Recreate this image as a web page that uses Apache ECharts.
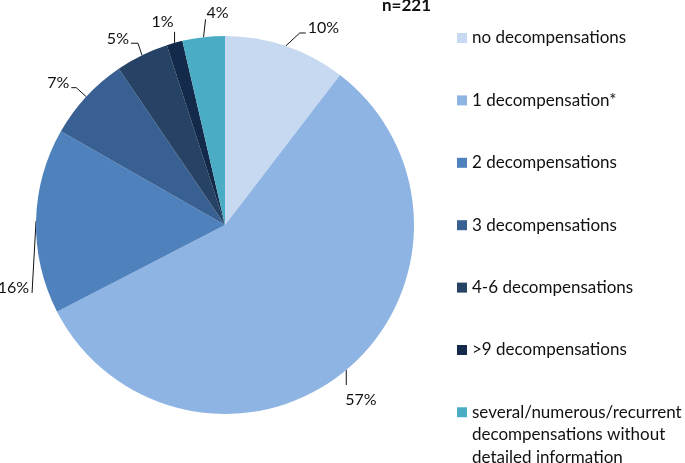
<!DOCTYPE html>
<html>
<head>
<meta charset="utf-8">
<script src="https://cdn.jsdelivr.net/npm/echarts@6/dist/echarts.min.js"></script>
<style>
  html, body { margin: 0; padding: 0; background: #fff; }
  #chart { width: 685px; height: 463px; }
</style>
</head>
<body>
<div id="chart"></div>
<script>
// patients per number of decompensations (n=221)
const categories = [
  "no decompensations",
  "1 decompensation*",
  "2 decompensations",
  "3 decompensations",
  "4-6 decompensations",
  ">9 decompensations",
  "several/numerous/recurrent\ndecompensations without\ndetailed information"
];
const counts = [23, 126, 35, 16, 10, 3, 8];
const colors = ["#c6d9f0", "#8eb4e3", "#4f81bd", "#386092", "#264264", "#132a4a", "#4bacc6"];
const total = counts.reduce((a, b) => a + b, 0);

const font = "Lato, 'Open Sans', sans-serif";
const cx = 225, cy = 225, R = 189;

// leader line shape per slice, Excel style: [elbow dx, dy], [end dx], [label dx, dy], align
const leader = [
  { elbow: [14, -13], end: 6, label: [2, -5], align: "left" },
  { elbow: [0, 15], end: 0, label: [-1, 15], align: "left" },
  { elbow: [-4, 72], end: 0, label: [-3, -5], align: "right" },
  { elbow: [-10, -9], end: -5, label: [-2, -5], align: "right" },
  { elbow: [-4, -12], end: -7, label: [-2, -4], align: "right" },
  { elbow: [0, -11], end: 0, label: [-1, -10], align: "right" },
  { elbow: [2, -18], end: 0, label: [1, -6], align: "left" }
];

// mid angle of each slice (clockwise from top)
let cum = 0;
const midAngles = counts.map((v) => {
  const a = (cum + v / 2) / total * 2 * Math.PI;
  cum += v;
  return a;
});

let chart = echarts.init(document.getElementById("chart"));

let option = {
  animation: false,
  title: {
    text: "n=" + total,
    left: 382,
    top: -3,
    padding: 0,
    textStyle: { fontFamily: font, fontSize: 17, fontWeight: "bold", color: "#111" }
  },
  color: colors,
  legend: [
    {
      orient: "vertical",
      left: 457,
      top: 28,
      padding: 0,
      itemWidth: 10,
      itemHeight: 10,
      itemGap: 42.4,
      icon: "rect",
      data: categories.slice(0, 6),
      textStyle: { fontFamily: font, fontSize: 17, lineHeight: 20, color: "#111" }
    },
    {
      orient: "vertical",
      left: 457,
      top: 356,
      padding: 0,
      itemWidth: 10,
      itemHeight: 10,
      icon: "rect",
      data: categories.slice(6),
      // two blank lines so the icon sits beside the first text line
      formatter: (name) => "\n\n" + name,
      textStyle: { fontFamily: font, fontSize: 17, lineHeight: 22.5, color: "#111" }
    }
  ],
  series: [
    {
      type: "pie",
      center: [cx, cy],
      radius: R,
      startAngle: 90,
      clockwise: true,
      avoidLabelOverlap: false,
      data: categories.map((name, i) => ({ name: name, value: counts[i] })),
      label: {
        show: true,
        position: "outside",
        fontFamily: font,
        fontSize: 16,
        color: "#111",
        formatter: (p) => Math.round(p.value / total * 100) + "%"
      },
      labelLine: {
        show: true,
        length: 14,
        length2: 6,
        lineStyle: { color: "#111", width: 1 }
      },
      labelLayout: function (params) {
        const i = params.dataIndex;
        const l = leader[i];
        const a = midAngles[i];
        const p0 = [cx + R * Math.sin(a), cy - R * Math.cos(a)];
        const p1 = [p0[0] + l.elbow[0], p0[1] + l.elbow[1]];
        const p2 = [p1[0] + l.end, p1[1]];
        return {
          x: p2[0] + l.label[0],
          y: p2[1] + l.label[1],
          align: l.align,
          verticalAlign: "middle",
          labelLinePoints: [p0, p1, p2]
        };
      },
      emphasis: { disabled: true }
    }
  ]
};

chart.setOption(option);
</script>
</body>
</html>
